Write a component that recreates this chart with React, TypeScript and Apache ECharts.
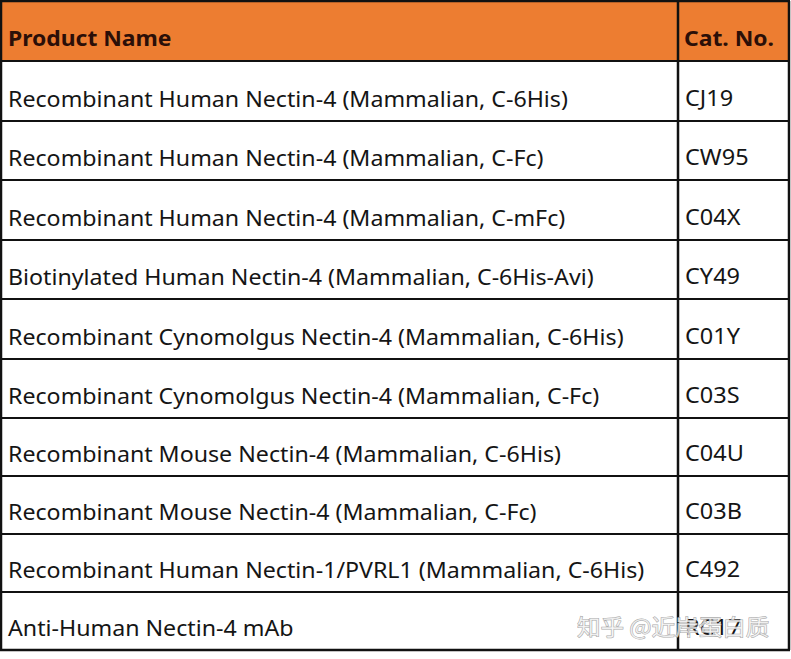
import React, { useEffect, useRef } from "react";
import * as echarts from "echarts";

const headers = ["Product Name", "Cat. No."];
const productNames = [
  "Recombinant Human Nectin-4 (Mammalian, C-6His)",
  "Recombinant Human Nectin-4 (Mammalian, C-Fc)",
  "Recombinant Human Nectin-4 (Mammalian, C-mFc)",
  "Biotinylated Human Nectin-4 (Mammalian, C-6His-Avi)",
  "Recombinant Cynomolgus Nectin-4 (Mammalian, C-6His)",
  "Recombinant Cynomolgus Nectin-4 (Mammalian, C-Fc)",
  "Recombinant Mouse Nectin-4 (Mammalian, C-6His)",
  "Recombinant Mouse Nectin-4 (Mammalian, C-Fc)",
  "Recombinant Human Nectin-1/PVRL1 (Mammalian, C-6His)",
  "Anti-Human Nectin-4 mAb",
];
const catNos = ["CJ19", "CW95", "C04X", "CY49", "C01Y", "C03S", "C04U", "C03B", "C492", "RC17"];
const watermark = "知乎 @近岸蛋白质";

// layout
const LEFT = 1;
const RIGHT = 789;
const COL = 678;
const HEADER_TOP = 1;
const HEADER_BOTTOM = 61;
const ROW_BOTTOMS = [121, 180, 240, 299, 359, 418, 476, 534, 592, 650];
const FONT = "'Noto Sans', 'Noto Sans CJK SC', sans-serif";
const BODY_SCALE = 1.105;

export default function App() {
  const ref = useRef<HTMLDivElement>(null);
  useEffect(() => {
    if (!ref.current) return;
    const chart = echarts.init(ref.current, undefined, { renderer: "svg" });
    const els: any[] = [];
    els.push({
      type: "rect",
      shape: { x: LEFT, y: HEADER_TOP, width: RIGHT - LEFT, height: HEADER_BOTTOM - HEADER_TOP },
      style: { fill: "#ED7D31" },
    });
    els.push({
      type: "text",
      x: 8,
      y: HEADER_BOTTOM - 23,
      scaleX: 1.04,
      style: { text: headers[0], font: `bold 22px ${FONT}`, fill: "#2b0f08", verticalAlign: "middle" },
    });
    els.push({
      type: "text",
      x: COL + 6,
      y: HEADER_BOTTOM - 23,
      scaleX: 1.04,
      style: { text: headers[1], font: `bold 22px ${FONT}`, fill: "#2b0f08", verticalAlign: "middle" },
    });
    productNames.forEach((name, i) => {
      const bottom = ROW_BOTTOMS[i];
      els.push({
        type: "text",
        x: 8,
        y: bottom - 23,
        scaleX: BODY_SCALE,
        style: { text: name, font: `21px ${FONT}`, fill: "#151515", verticalAlign: "middle" },
      });
      els.push({
        type: "text",
        x: COL + 7,
        y: bottom - 23,
        scaleX: 1.12,
        style: { text: catNos[i], font: `21px ${FONT}`, fill: "#151515", verticalAlign: "middle" },
      });
    });
    const hs = [HEADER_TOP, HEADER_BOTTOM, ...ROW_BOTTOMS];
    hs.forEach((y, i) => {
      els.push({
        type: "line",
        shape: { x1: LEFT - 1, y1: y, x2: RIGHT + 1, y2: y },
        style: { stroke: "#111", lineWidth: i === 0 || i === hs.length - 1 ? 2.5 : 2 },
      });
    });
    [LEFT, COL, RIGHT].forEach((x) => {
      els.push({
        type: "line",
        shape: { x1: x, y1: HEADER_TOP, x2: x, y2: ROW_BOTTOMS[ROW_BOTTOMS.length - 1] },
        style: { stroke: "#111", lineWidth: 2.5 },
      });
    });
    els.push({
      type: "text",
      x: 577,
      y: ROW_BOTTOMS[ROW_BOTTOMS.length - 1] - 24,
      scaleX: 1.07,
      style: {
        text: watermark,
        font: `22px 'Noto Sans CJK SC', sans-serif`,
        fill: "rgba(255,255,255,0.7)",
        stroke: "rgba(150,150,150,0.85)",
        lineWidth: 1,
        verticalAlign: "middle",
      },
    });
    chart.setOption({
      animation: false,
      backgroundColor: "#ffffff",
      graphic: { elements: els },
    });
    return () => chart.dispose();
  }, []);
  return (
    <div
      ref={ref}
      style={{ position: "fixed", left: 0, top: 0, width: 791, height: 659, background: "#fff" }}
    />
  );
}
